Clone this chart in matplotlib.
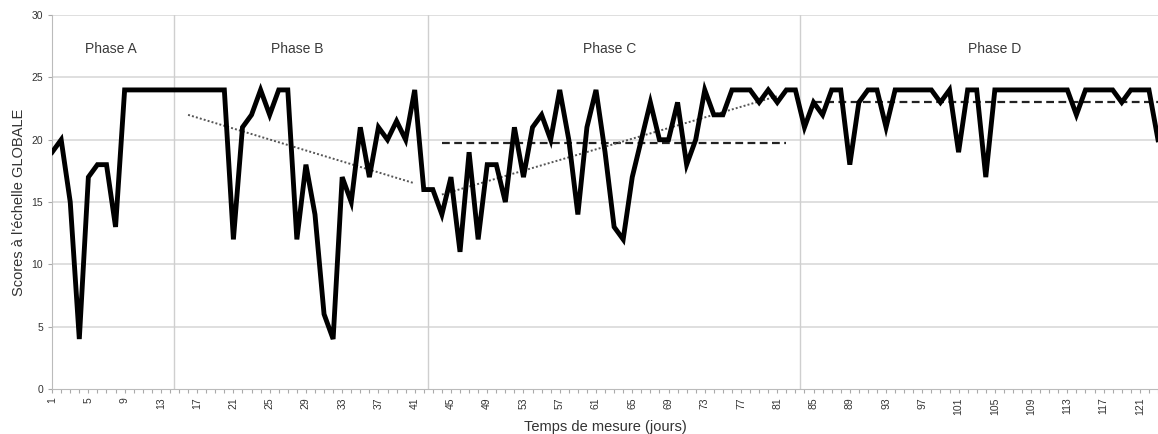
import numpy as np
import matplotlib.pyplot as plt

plt.rcParams['font.family'] = ['Liberation Sans Narrow', 'Liberation Sans', 'DejaVu Sans']

# scores (one per measurement day, 1..123)
scores = [19, 20, 15, 4, 17, 18, 18, 13,
          24, 24, 24, 24, 24, 24, 24, 24, 24, 24, 24, 24,
          12, 21, 22, 24, 22, 24, 24, 12, 18, 14, 6, 4, 17, 15, 21, 17, 21, 20, 21.5, 20, 24,
          16, 16, 14, 17, 11, 19, 12, 18, 18, 15, 21, 17, 21, 22, 20, 24, 20, 14, 21, 24,
          19, 13, 12, 17, 20, 23, 20, 20, 23, 18, 20, 24, 22, 22, 24, 24, 24, 23, 24, 23, 24, 24,
          21, 23, 22, 24, 24, 18, 23, 24, 24, 21, 24, 24, 24, 24, 24, 23, 24, 19, 24, 24, 17,
          24, 24, 24, 24, 24, 24, 24, 24, 24, 22, 24, 24, 24, 24, 23, 24, 24, 24, 20]
days = np.arange(1, len(scores) + 1)

# phase boundaries and labels
phase_edges = [14.5, 42.5, 83.5]
phase_names = ['Phase A', 'Phase B', 'Phase C', 'Phase D']
phase_label_x = [7.5, 28.0, 62.5, 105.0]

# mean lines (dashed): start day, end day, level
mean_start = [44, 85]
mean_end = [82, 123]
mean_level = [19.7, 23.0]

# trend lines (dotted): start day, end day, start value, end value
trend_start = [16, 44]
trend_end = [41, 81]
trend_v0 = [22.0, 15.6]
trend_v1 = [16.5, 23.5]

fig = plt.figure(figsize=(11.58, 4.34), dpi=100)
ax = fig.add_axes([0.045, 0.104, 0.955, 0.861])

for v in range(5, 31, 5):
    ax.axhline(v, color='#d9d9d9', lw=1.2, zorder=0)
for e in phase_edges:
    ax.axvline(e, color='#cfcfcf', lw=1.0, zorder=0)

ax.plot(days, scores, color='black', lw=3.5, solid_joinstyle='miter', zorder=3)

for s, e, m in zip(mean_start, mean_end, mean_level):
    ax.plot([s, e], [m, m], color='#222222', lw=1.6, ls=(0, (3.5, 2)), zorder=2)
for s, e, a, b in zip(trend_start, trend_end, trend_v0, trend_v1):
    ax.plot([s, e], [a, b], color='#555555', lw=1.4, ls=(0, (1, 1.1)), zorder=2)

for x, name in zip(phase_label_x, phase_names):
    ax.text(x, 27.3, name, ha='center', va='center', fontsize=10, color='#3a3a3a')

ax.set_xlim(1, len(scores))
ax.set_ylim(0, 30)
ax.set_yticks(range(0, 31, 5))
ax.set_xticks(days)
ax.set_xticklabels([str(d) if (d - 1) % 4 == 0 else '' for d in days], rotation=90, fontsize=7.5, color='#333333')
ax.tick_params(axis='x', length=3, width=0.8, color='#aaaaaa', pad=3)
ax.tick_params(axis='y', length=3, width=0.8, color='#aaaaaa', labelsize=7.5, labelcolor='#333333')

for side in ['top', 'right']:
    ax.spines[side].set_visible(False)
ax.spines['left'].set_color('#bbbbbb')
ax.spines['bottom'].set_color('#bbbbbb')

ax.set_ylabel("Scores à l'échelle GLOBALE", fontsize=10.5, color='#333333', labelpad=4)
ax.set_xlabel('Temps de mesure (jours)', fontsize=10.5, color='#333333', labelpad=4)

plt.savefig('out.png', dpi=100)
